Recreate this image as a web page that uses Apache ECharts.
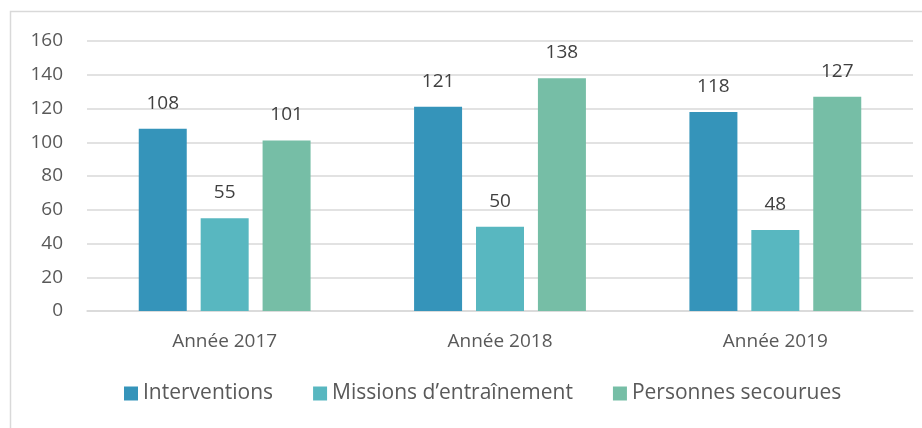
<!DOCTYPE html>
<html>
<head>
<meta charset="utf-8">
<script src="https://cdn.jsdelivr.net/npm/echarts@6/dist/echarts.min.js"></script>
<style>
  html, body { margin: 0; padding: 0; background: #fff; }
  #main { width: 922px; height: 428px; }
</style>
</head>
<body>
<div id="main"></div>
<script>
// data
var categories = ['Année 2017', 'Année 2018', 'Année 2019'];
var interventions = [108, 121, 118];
var missions = [55, 50, 48];
var personnes = [101, 138, 127];
var seriesNames = ['Interventions', 'Missions d\u2019entraînement', 'Personnes secourues'];

var colors = ['#3594ba', '#58b7c0', '#76bea6'];
var font = 'Open Sans';

var myChart = echarts.init(document.getElementById('main'));

function barSeries(name, data) {
    return {
        name: name,
        type: 'bar',
        data: data,
        barWidth: 48,
        barGap: '29%',
        label: {
            show: true,
            position: 'top',
            distance: 16,
            color: '#404040',
            fontFamily: font,
            fontSize: 19
        }
    };
}

var option = {
    color: colors,
    animation: false,
    textStyle: { fontFamily: font },
    graphic: [{
        type: 'rect',
        shape: { x: 10.5, y: 11.5, width: 940, height: 440 },
        style: { fill: 'none', stroke: '#d9d9d9', lineWidth: 1.5 },
        silent: true
    }],
    grid: {
        left: 87,
        right: 9,
        top: 41,
        bottom: 117
    },
    legend: {
        bottom: 19,
        left: 119,
        itemWidth: 14,
        itemHeight: 14,
        itemGap: 40,
        icon: 'rect',
        textStyle: { color: '#595959', fontSize: 21, fontFamily: font },
        data: seriesNames
    },
    xAxis: {
        type: 'category',
        data: categories,
        axisTick: { show: false },
        axisLine: { lineStyle: { color: '#d9d9d9', width: 1.5 } },
        axisLabel: { color: '#595959', fontSize: 19, margin: 21, fontFamily: font }
    },
    yAxis: {
        type: 'value',
        min: 0,
        max: 160,
        interval: 20,
        axisLine: { show: false },
        axisTick: { show: false },
        axisLabel: { color: '#595959', fontSize: 19, margin: 24, fontFamily: font },
        splitLine: { lineStyle: { color: '#d9d9d9', width: 1.5 } }
    },
    series: [
        barSeries(seriesNames[0], interventions),
        barSeries(seriesNames[1], missions),
        barSeries(seriesNames[2], personnes)
    ]
};
myChart.setOption(option);
</script>
</body>
</html>
